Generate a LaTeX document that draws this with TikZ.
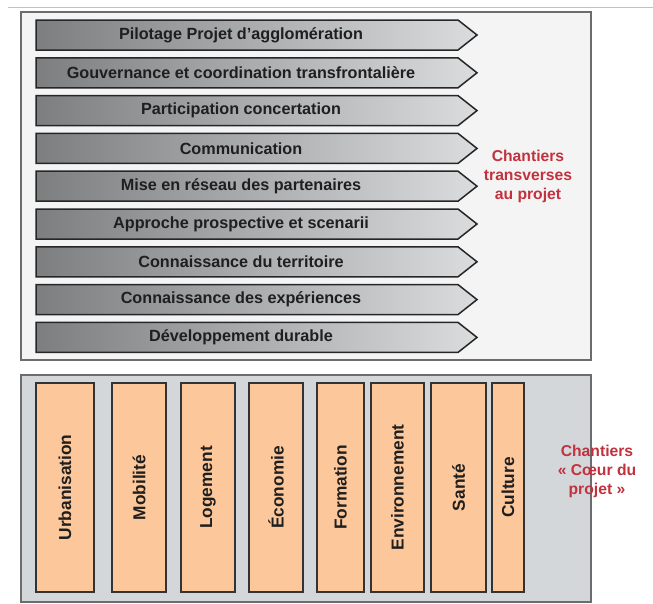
\documentclass[tikz,border=0pt]{standalone}
\usepackage{fontspec}
\setmainfont{Liberation Sans}

\definecolor{redlabel}{HTML}{C2313E}
\definecolor{peach}{HTML}{FCC79A}
\definecolor{panelgray}{HTML}{D4D7DA}
\definecolor{panellight}{HTML}{F4F4F4}
\definecolor{bardark}{HTML}{7C7E80}
\definecolor{barlight}{HTML}{DADCDE}

\tikzset{
  panel/.style={draw=gray!85!black, line width=1.3pt},
  chevron/.style={draw=black!85, line width=1.5pt, left color=bardark, right color=barlight},
  chevtext/.style={font=\fontsize{16.2}{18}\selectfont\bfseries, text=black!88},
  pillar/.style={draw=black!80, line width=1.5pt, fill=peach},
  pillartext/.style={font=\fontsize{17.3}{18}\selectfont\bfseries, text=black!88, rotate=90},
  redtext/.style={font=\fontsize{15.7}{19}\selectfont\bfseries, text=redlabel, align=center}
}

\begin{document}
\begin{tikzpicture}[x=1pt,y=-1pt]
			\useasboundingbox[fill=white] (0,0) rectangle (653,603);
			\draw [red!35, line width=.8pt] (8,7) -- (653,7);
			
			% chantiers transverses
			\draw [panel, fill=panellight] (21,12) rectangle (591,360);
			\foreach \lbl [count=\i from 0] in {Pilotage Projet d'agglomération,Gouvernance et coordination transfrontalière,Participation concertation,Communication,Mise en réseau des partenaires,Approche prospective et scenarii,Connaissance du territoire,Connaissance des expériences,Développement durable}{
				\pgfmathsetmacro{\ytop}{20+\i*37.8}
				\shade [chevron] (36,\ytop) -- (458,\ytop) -- (477,\ytop+15) -- (458,\ytop+30) -- (36,\ytop+30) -- cycle;
				\node [chevtext] (t\i) at (241,\ytop+15) {\lbl};
			}
			\node [redtext] (transv) at (528,176) {Chantiers\\transverses\\au projet};
			
			% chantiers coeur du projet
			\draw [panel, fill=panelgray] (21,375) rectangle (591,602);
			\foreach \xa/\xb/\lbl [count=\i] in {36/94/Urbanisation,112/166/Mobilité,181/235/Logement,249/303/Économie,317/364/Formation,371/424/Environnement,431/486/Santé,492/524/Culture}{
				\draw [pillar] (\xa,383) rectangle (\xb,592);
				\node [pillartext] (p\i) at ({(\xa+\xb)/2},487.5) {\lbl};
			}
			\node [redtext] (coeur) at (597,471) {Chantiers\\«~Cœur du\\projet~»};
\end{tikzpicture}
\end{document}
